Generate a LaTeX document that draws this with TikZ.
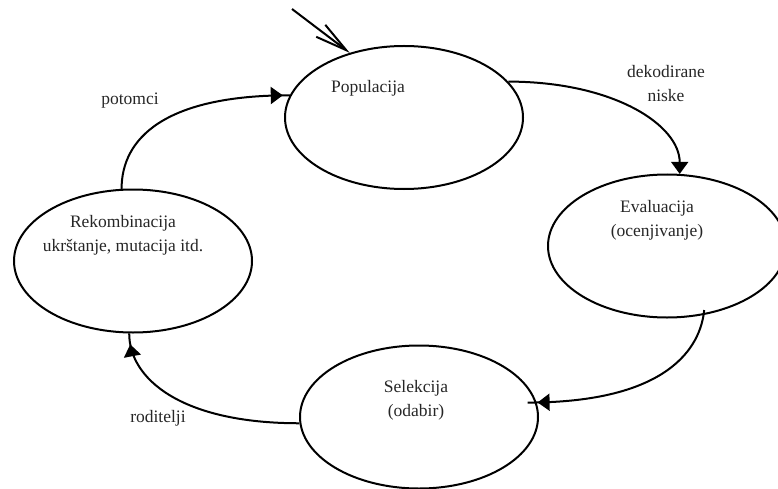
\documentclass[tikz,border=0pt]{standalone}
\usepackage{fontspec}
\setmainfont{Liberation Serif}
\newfontfamily\capfont{Liberation Serif}
\usetikzlibrary{shapes.geometric,arrows.meta,decorations.markings,calc}
\begin{document}
\begin{tikzpicture}[x=1pt,y=-1pt,
  stage/.style={ellipse, draw, line width=2pt, minimum width=238pt,
                minimum height=143pt, inner sep=0pt},
  txt/.style={font=\capfont\fontsize{17.5}{24}\selectfont, text=black!85,
              align=center, inner sep=0pt},
  flow/.style={line width=2pt},
  headat/.style={postaction={decorate},
    decoration={markings, mark=at position -#1 with
      {\arrow{Triangle[length=12pt,width=17pt]}}}},
]
\useasboundingbox (0,0) rectangle (778,489);

% the four stages of the cycle
\node[stage] (pop)  at (404,117.5) {};
\node[stage] (eval) at (667,246) {};
\node[stage] (sel)  at (419,417) {};
\node[stage] (rek)  at (133,261) {};

% stage captions
\node[txt] (popT)  at (368,88)  {Populacija};
\node[txt] (evalT) at (657,220) {Evaluacija\\(ocenjivanje)};
\node[txt] (selT)  at (416,400) {Selekcija\\(odabir)};
\node[txt] (rekT)  at (123,235) {Rekombinacija\\ukrštanje, mutacija itd.};

% edge captions
\node[txt] (decT) at (666,84)  {dekodirane\\niske};
\node[txt] (potT) at (130,101) {potomci};
\node[txt] (rodT) at (158,418) {roditelji};

% entry into the cycle
\coordinate (entry) at (292,9);
\draw[flow, -{Straight Barb[length=32pt,width=15pt,line width=2pt]}]
  (entry) -- (pop.130);

% population -> evaluation
\draw[flow, -{Triangle[length=12pt,width=17pt]}]
  (pop.19) .. controls +(105,0) and +(0,-49) .. (eval.80);

% evaluation -> selection
\draw[flow, headat=10pt, shorten <=-5pt]
  (eval.-62) .. controls +(-3,32) and +(141,0) .. ($(sel.7)+(-9,0)$);

% selection -> recombination
\draw[flow, headat=11pt]
  (sel.183) .. controls +(-119,0) and +(0,45) .. (rek.-93);

% recombination -> population
\draw[flow, headat=7pt]
  (rek.99) .. controls +(0,-50) and +(-126,0) .. (pop.169);
\end{tikzpicture}
\end{document}
